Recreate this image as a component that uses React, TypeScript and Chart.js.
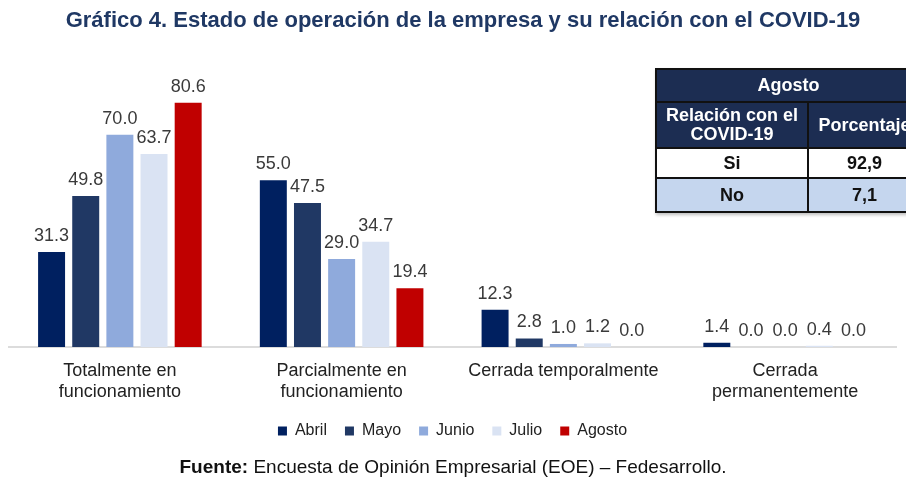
import React, { useEffect, useRef } from "react";
import { Chart, registerables } from "chart.js";
Chart.register(...registerables);

const TITLE = "Gráfico 4. Estado de operación de la empresa y su relación con el COVID-19";
const categories: (string | string[])[] = [
  ["Totalmente en", "funcionamiento"],
  ["Parcialmente en", "funcionamiento"],
  "Cerrada temporalmente",
  ["Cerrada", "permanentemente"],
];
const months = ["Abril", "Mayo", "Junio", "Julio", "Agosto"];
const abril = [31.3, 55.0, 12.3, 1.4];
const mayo = [49.8, 47.5, 2.8, 0.0];
const junio = [70.0, 29.0, 1.0, 0.0];
const julio = [63.7, 34.7, 1.2, 0.4];
const agosto = [80.6, 19.4, 0.0, 0.0];
const colors = ["#002060", "#203864", "#8faadc", "#dae3f3", "#c00000"];

const tableTitle = "Agosto";
const tableHead = [["Relación con el", "COVID-19"], ["Porcentaje"]];
const tableRows = [
  ["Si", "92,9"],
  ["No", "7,1"],
];
const sourceBold = "Fuente:";
const sourceText = " Encuesta de Opinión Empresarial (EOE) – Fedesarrollo.";

const FONT = "'Liberation Sans', Arial, Helvetica, sans-serif";

const valueLabels = {
  id: "valueLabels",
  afterDatasetsDraw(chart: any) {
    const ctx = chart.ctx;
    ctx.save();
    ctx.font = `18px ${FONT}`;
    ctx.fillStyle = "#3a3a3a";
    ctx.textAlign = "center";
    ctx.textBaseline = "bottom";
    chart.data.datasets.forEach((ds: any, i: number) => {
      const meta = chart.getDatasetMeta(i);
      meta.data.forEach((el: any, j: number) => {
        ctx.fillText(Number(ds.data[j]).toFixed(1), el.x, el.y - 7);
      });
    });
    ctx.restore();
  },
};

export default function App() {
  const ref = useRef<HTMLCanvasElement>(null);
  useEffect(() => {
    const series = [abril, mayo, junio, julio, agosto];
    const chart = new Chart(ref.current!, {
      type: "bar",
      data: {
        labels: categories,
        datasets: months.map((m, i) => ({
          label: m,
          data: series[i],
          backgroundColor: colors[i],
          categoryPercentage: 0.77,
          barPercentage: 0.79,
        })),
      },
      options: {
        animation: false,
        responsive: false,
        maintainAspectRatio: false,
        layout: { padding: { left: 9, right: 10, bottom: 29, top: 59 } },
        plugins: {
          legend: {
            position: "bottom",
            labels: {
              boxWidth: 9,
              boxHeight: 9,
              color: "#222",
              padding: 18,
              font: { size: 16, family: FONT },
            },
          },
          tooltip: { enabled: false },
        },
        scales: {
          x: {
            grid: { display: false },
            border: { color: "#dcdcdc", width: 2 },
            afterFit: (s: any) => {
              s.height = 58;
            },
            ticks: {
              color: "#222",
              padding: 5,
              font: { size: 18, family: FONT },
              maxRotation: 0,
              autoSkip: false,
            },
          },
          y: { display: false, min: 0, max: 95 },
        },
      },
      plugins: [valueLabels],
    });
    return () => chart.destroy();
  }, []);

  const cell: React.CSSProperties = {
    border: "2px solid #111",
    textAlign: "center",
    fontWeight: "bold",
    fontFamily: FONT,
    fontSize: 18,
    padding: 0,
  };
  return (
    <div style={{ position: "absolute", left: 0, top: 0, width: 906, height: 478, overflow: "hidden", background: "#fff" }}>
      <canvas ref={ref} width={906} height={478} style={{ position: "absolute", left: 0, top: 0 }} />
      <div
        style={{
          position: "absolute",
          left: 10,
          width: 906,
          top: 6,
          textAlign: "center",
          fontFamily: FONT,
          fontSize: 22,
          fontWeight: "bold",
          lineHeight: "28px",
          color: "#1f3864",
        }}
      >
        {TITLE}
      </div>
      <table
        style={{
          position: "absolute",
          left: 655,
          top: 68,
          width: 267,
          borderCollapse: "collapse",
          boxShadow: "1px 2px 3px rgba(0,0,0,0.25)",
        }}
      >
        <tbody>
          <tr style={{ height: 33 }}>
            <td colSpan={2} style={{ ...cell, background: "#1c2d52", color: "#fff" }}>{tableTitle}</td>
          </tr>
          <tr style={{ height: 46 }}>
            {tableHead.map((h, i) => (
              <td key={i} style={{ ...cell, background: "#1c2d52", color: "#fff", width: i === 0 ? 155 : 112, lineHeight: "19px" }}>
                {h.map((t, k) => (
                  <div key={k}>{t}</div>
                ))}
              </td>
            ))}
          </tr>
          {tableRows.map((r, i) => (
            <tr key={i} style={{ height: i === 0 ? 30 : 34 }}>
              {r.map((c, k) => (
                <td key={k} style={{ ...cell, background: i === 0 ? "#fff" : "#c5d6ee", color: "#111" }}>{c}</td>
              ))}
            </tr>
          ))}
        </tbody>
      </table>
      <div
        style={{
          position: "absolute",
          left: 0,
          width: 906,
          top: 456,
          textAlign: "center",
          fontFamily: FONT,
          fontSize: 19,
          color: "#111",
        }}
      >
        <b>{sourceBold}</b>
        {sourceText}
      </div>
    </div>
  );
}
